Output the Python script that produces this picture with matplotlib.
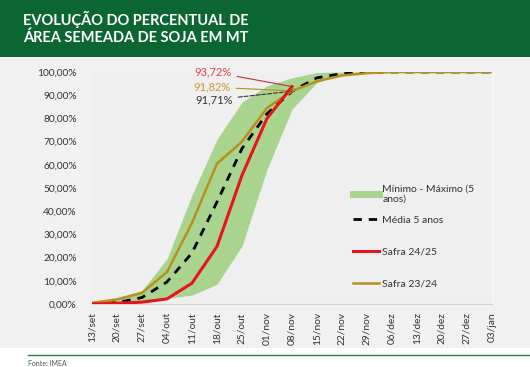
import numpy as np
import matplotlib.pyplot as plt
from matplotlib.patches import Rectangle
from matplotlib.lines import Line2D

plt.rcParams['font.family'] = ['Lato', 'DejaVu Sans']

semanas = ['13/set', '20/set', '27/set', '04/out', '11/out', '18/out', '25/out',
           '01/nov', '08/nov', '15/nov', '22/nov', '29/nov', '06/dez', '13/dez',
           '20/dez', '27/dez', '03/jan']

minimo = [0.0, 0.3, 1.0, 2.5, 3.8, 8.5, 25.0, 58.0, 84.0, 95.5, 99.0, 100, 100, 100, 100, 100, 100]
maximo = [0.5, 2.5, 5.8, 19.5, 47.0, 71.0, 87.0, 94.0, 97.5, 99.8, 100, 100, 100, 100, 100, 100, 100]
media = [0.0, 0.6, 2.8, 9.5, 22.0, 44.0, 67.0, 82.0, 91.71, 97.5, 99.3, 99.8, 100, 100, 100, 100, 100]
safra_2425 = [0.0, 0.3, 0.8, 2.2, 9.0, 24.8, 55.5, 80.0, 93.72]
safra_2324 = [0.5, 2.0, 4.8, 13.8, 35.0, 60.5, 70.0, 84.5, 91.82, 96.0, 98.5, 99.5, 100, 100, 100, 100, 100]

verde = '#0b6632'
c_banda = '#a9d48f'
c_vermelho = '#e8141c'
c_dourado = '#b8901e'

fig = plt.figure(figsize=(5.30, 3.67), dpi=100)
fig.patch.set_facecolor('white')

# fundo do grafico e cabecalho
fig.add_artist(Rectangle((0, 19 / 367), 1, 291 / 367, transform=fig.transFigure,
                         facecolor='#f1f1f1', edgecolor='none', zorder=0))
fig.add_artist(Rectangle((0, 310 / 367), 1, 57 / 367, transform=fig.transFigure,
                         facecolor=verde, edgecolor='none', zorder=0))
fig.text(23 / 530, 1 - 19 / 367, 'EVOLUÇÃO DO PERCENTUAL DE', color='white',
         fontsize=10.5, fontweight='bold', va='center', ha='left')
fig.text(23 / 530, 1 - 38 / 367, 'ÁREA SEMEADA DE SOJA EM MT', color='white',
         fontsize=10.5, fontweight='bold', va='center', ha='left')

# rodape
fig.add_artist(Line2D([28 / 530, 1], [1 - 355 / 367] * 2, transform=fig.transFigure,
                      color='#2e7d4a', lw=1.0))
fig.text(28 / 530, 1 - 363 / 367, 'Fonte: IMEA', color='#555555', fontsize=5,
         va='center', ha='left')

ax = fig.add_axes([92 / 530, 63 / 367, 400 / 530, 232 / 367])
ax.set_facecolor('#efefef')

x = np.arange(len(semanas))
banda = ax.fill_between(x, minimo, maximo, color=c_banda, lw=0, zorder=1)
l_media, = ax.plot(x, media, color='black', lw=2.0, ls=(0, (3, 2.5)), zorder=2)
l_2324, = ax.plot(x, safra_2324, color=c_dourado, lw=1.8, zorder=3)
l_2425, = ax.plot(np.arange(len(safra_2425)), safra_2425, color=c_vermelho, lw=2.2,
                  zorder=4)

ax.set_xlim(0, 16)
ax.set_ylim(0, 100)
ax.set_yticks(np.arange(0, 101, 10))
ax.set_yticklabels(['%d,00%%' % v for v in range(0, 101, 10)])
ax.set_xticks(x)
ax.set_xticklabels(semanas, rotation=90)
ax.tick_params(axis='both', length=0, labelsize=7.3, colors='#333333')
ax.tick_params(axis='y', pad=11)
ax.tick_params(axis='x', pad=6)
for s in ['top', 'left']:
    ax.spines[s].set_visible(False)
ax.spines['bottom'].set_color('#d0d0d0')
ax.spines['right'].set_color('#f8f8f8')

# rotulos dos valores em 08/nov
i = 8
ax.annotate('93,72%', xy=(i, safra_2425[i]), xytext=(4.84, 100), color='#d6454a',
            fontsize=8, ha='center', va='center',
            arrowprops=dict(arrowstyle='-', color='#c0303a', lw=0.8, shrinkA=2, shrinkB=0))
ax.annotate('91,82%', xy=(i, safra_2324[i]), xytext=(4.8, 93.5), color='#c89a30',
            fontsize=8, ha='center', va='center',
            arrowprops=dict(arrowstyle='-', color=c_dourado, lw=0.8, shrinkA=2, shrinkB=0))
ax.annotate('91,71%', xy=(i, media[i]), xytext=(4.88, 88.0), color='#333333',
            fontsize=8, ha='center', va='center',
            arrowprops=dict(arrowstyle='-', color='#333333', lw=0.8, ls='--',
                            shrinkA=2, shrinkB=0))

# legendas
leg1 = ax.legend([Line2D([], [], color=c_banda, lw=5)], ['Mínimo - Máximo (5\nanos)'],
                 loc='center left', bbox_to_anchor=(0.6525, 0.474), frameon=False,
                 fontsize=7.5, handlelength=2.5, handletextpad=0.3, borderpad=0,
                 borderaxespad=0)
for t in leg1.get_texts():
    t.set_color('#333333')
ax.add_artist(leg1)
leg2 = ax.legend([l_media, l_2425, l_2324], ['Média 5 anos', 'Safra 24/25', 'Safra 23/24'],
                 loc='upper left', bbox_to_anchor=(0.6525, 0.38), frameon=False,
                 fontsize=7.5, labelspacing=2.15, handlelength=2.5, handletextpad=0.3,
                 borderpad=0, borderaxespad=0)
for t in leg2.get_texts():
    t.set_color('#333333')

fig.savefig('out.png', dpi=100)
